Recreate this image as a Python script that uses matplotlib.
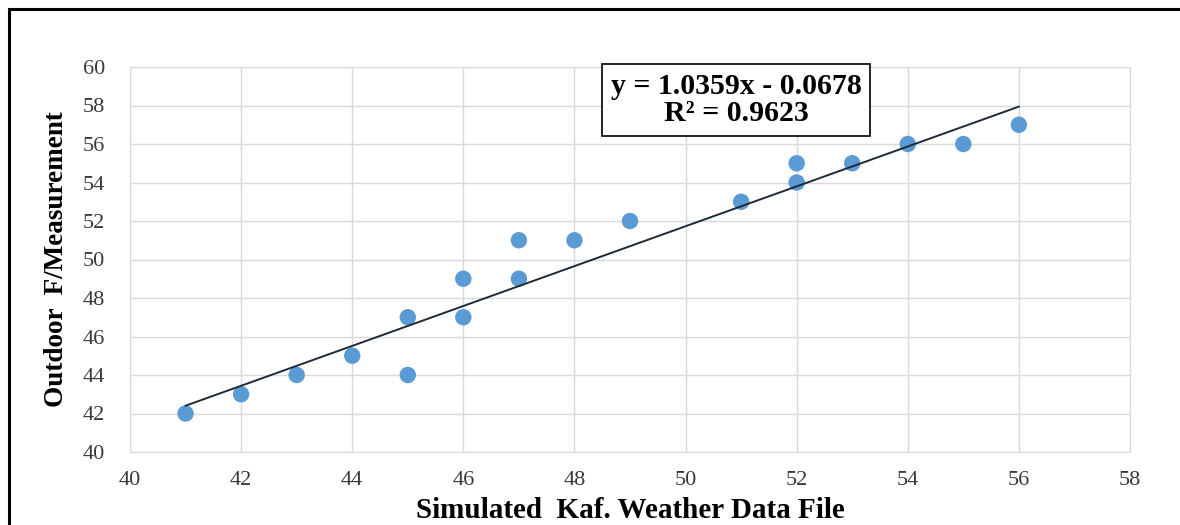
import numpy as np
import matplotlib
matplotlib.use("Agg")
import matplotlib.pyplot as plt
from matplotlib.patches import Rectangle

# data
x_sim = [41, 42, 43, 44, 45, 45, 46, 46, 47, 47, 48, 49, 51, 52, 52, 53, 54, 55, 56]
y_meas = [42, 43, 44, 45, 47, 44, 49, 47, 51, 49, 51, 52, 53, 55, 54, 55, 56, 56, 57]
slope = 1.0359
intercept = -0.0678
r2 = 0.9623

x_ticks = list(range(40, 59, 2))
y_ticks = list(range(40, 61, 2))

plt.rcParams["font.family"] = ["Liberation Serif", "DejaVu Serif"]

fig = plt.figure(figsize=(11.8, 5.25), dpi=100)
ax = fig.add_axes([130 / 1180, 73 / 525, 1000 / 1180, 385 / 525])

# outer frame (top and left only visible in the reference)
fig.add_artist(Rectangle((9 / 1180, -0.05), 1.2, 1 - 9 / 525 + 0.05,
                         transform=fig.transFigure, fill=False,
                         edgecolor="black", linewidth=2.2, zorder=0))

ax.set_xlim(40, 58)
ax.set_ylim(40, 60)
ax.set_xticks(x_ticks)
ax.set_yticks(y_ticks)
ax.grid(True, color="#d9d9d9", linewidth=1.0)
ax.set_axisbelow(True)
for s in ax.spines.values():
    s.set_color("#d9d9d9")
ax.tick_params(length=0, labelsize=16, colors="#3a3a3a")
ax.tick_params(axis="x", pad=14)
ax.tick_params(axis="y", pad=18)

ax.scatter(x_sim, y_meas, s=140, color="#5b9bd5", zorder=3, edgecolors="none")

xs = np.array([min(x_sim), max(x_sim)])
ax.plot(xs, slope * xs + intercept, color="#1f2a38", linewidth=1.4, zorder=4)

ax.set_xlabel("Simulated  Kaf. Weather Data File", fontsize=21, fontweight="bold",
              va="center")
ax.xaxis.set_label_coords(0.5, -0.153)
ax.set_ylabel("Outdoor  F/Measurement", fontsize=19.5, fontweight="bold",
              va="center")
ax.yaxis.set_label_coords(-0.073, 0.5)

ax.text(0.606, 0.914, f"y = {slope}x - {abs(intercept)}\nR² = {r2}",
        transform=ax.transAxes, ha="center", va="center", fontsize=21.5,
        fontweight="bold", linespacing=1.0, zorder=5,
        bbox=dict(boxstyle="square,pad=0.3", facecolor="white", edgecolor="black",
                  linewidth=1.2))

fig.savefig("out.png", dpi=100)
